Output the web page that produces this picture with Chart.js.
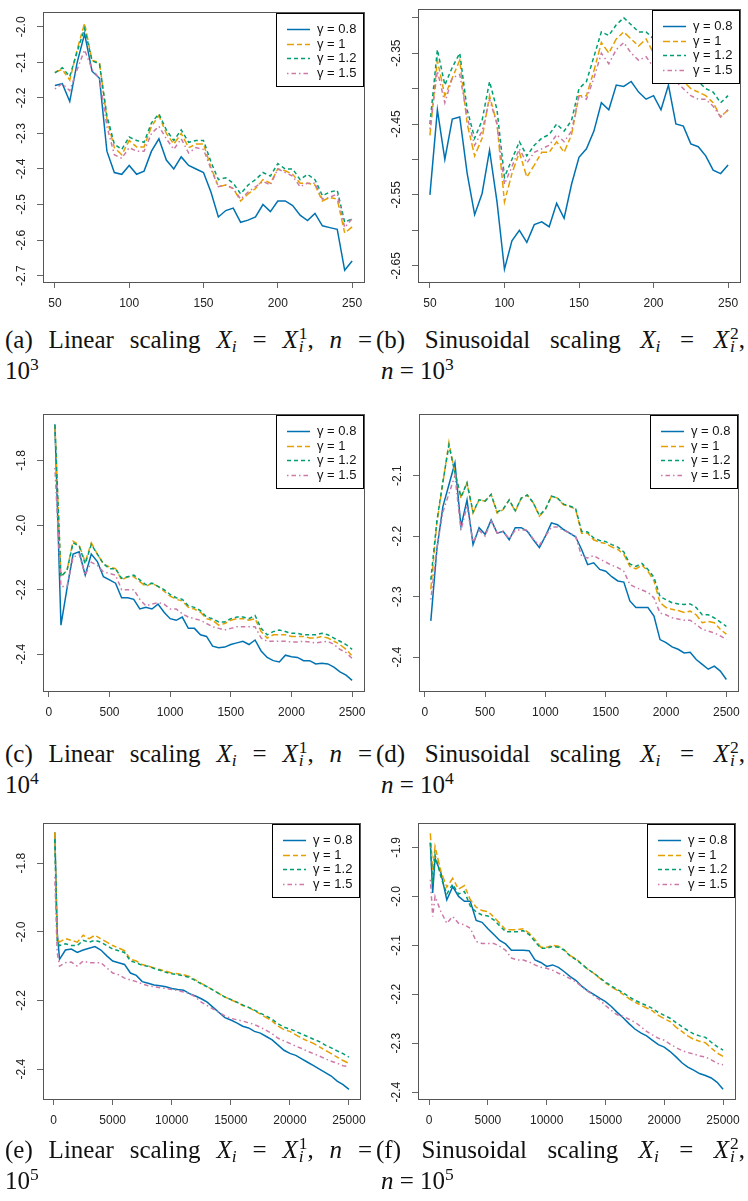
<!DOCTYPE html>
<html>
<head>
<meta charset="utf-8">
<script src="https://cdn.jsdelivr.net/npm/chart.js@4.4.1/dist/chart.umd.min.js"></script>
<style>
  body { margin: 0; background: #fff; }
  #page { position: relative; width: 748px; height: 1201px; overflow: hidden; background: #fff; }
  canvas { position: absolute; }
  .cap { position: absolute; font-family: "Liberation Serif", serif; font-size: 25px; line-height: 31px; color: #111; }
  .cap .l1 { display: flex; justify-content: space-between; align-items: baseline; white-space: nowrap; }
  .cap .l2 { white-space: nowrap; }
  .cap sub { font-size: 0.7em; vertical-align: -0.25em; line-height: 0; }
  .cap sup { font-size: 0.7em; vertical-align: 0.5em; line-height: 0; }
  .ss { display: inline-flex; flex-direction: column; font-size: 0.7em; line-height: 0.75; vertical-align: 0.5em; margin-left: 1px; }
</style>
</head>
<body>
<div id="page">
  <canvas id="pa" width="374" height="320" style="left:0;top:0;width:374px;height:320px"></canvas>
  <canvas id="pb" width="374" height="320" style="left:374px;top:0;width:374px;height:320px"></canvas>
  <canvas id="pc" width="374" height="329" style="left:0;top:400px;width:374px;height:329px"></canvas>
  <canvas id="pd" width="374" height="329" style="left:374px;top:400px;width:374px;height:329px"></canvas>
  <canvas id="pe" width="374" height="337" style="left:0;top:800px;width:374px;height:337px"></canvas>
  <canvas id="pf" width="374" height="337" style="left:374px;top:800px;width:374px;height:337px"></canvas>

  <div class="cap" style="left:5px;top:324px;width:367px">
    <div class="l1"><span>(a)</span><span>Linear</span><span>scaling</span><span><i>X</i><sub><i>i</i></sub></span><span>=</span><span><i>X</i><span class="ss"><span>1</span><i>i</i></span>,</span><span><i>n</i></span><span>=</span></div>
    <div class="l2">10<sup>3</sup></div>
  </div>
  <div class="cap" style="left:376px;top:324px;width:369px">
    <div class="l1"><span>(b)</span><span>Sinusoidal</span><span>scaling</span><span><i>X</i><sub><i>i</i></sub></span><span>=</span><span><i>X</i><span class="ss"><span>2</span><i>i</i></span>,</span></div>
    <div class="l2" style="padding-left:5px"><i>n</i> = 10<sup>3</sup></div>
  </div>
  <div class="cap" style="left:5px;top:738px;width:367px">
    <div class="l1"><span>(c)</span><span>Linear</span><span>scaling</span><span><i>X</i><sub><i>i</i></sub></span><span>=</span><span><i>X</i><span class="ss"><span>1</span><i>i</i></span>,</span><span><i>n</i></span><span>=</span></div>
    <div class="l2">10<sup>4</sup></div>
  </div>
  <div class="cap" style="left:376px;top:738px;width:369px">
    <div class="l1"><span>(d)</span><span>Sinusoidal</span><span>scaling</span><span><i>X</i><sub><i>i</i></sub></span><span>=</span><span><i>X</i><span class="ss"><span>2</span><i>i</i></span>,</span></div>
    <div class="l2" style="padding-left:5px"><i>n</i> = 10<sup>4</sup></div>
  </div>
  <div class="cap" style="left:5px;top:1134px;width:367px">
    <div class="l1"><span>(e)</span><span>Linear</span><span>scaling</span><span><i>X</i><sub><i>i</i></sub></span><span>=</span><span><i>X</i><span class="ss"><span>1</span><i>i</i></span>,</span><span><i>n</i></span><span>=</span></div>
    <div class="l2">10<sup>5</sup></div>
  </div>
  <div class="cap" style="left:376px;top:1134px;width:369px">
    <div class="l1"><span>(f)</span><span>Sinusoidal</span><span>scaling</span><span><i>X</i><sub><i>i</i></sub></span><span>=</span><span><i>X</i><span class="ss"><span>2</span><i>i</i></span>,</span></div>
    <div class="l2" style="padding-left:5px"><i>n</i> = 10<sup>5</sup></div>
  </div>
</div>

<script>
// legend labels, one per gamma
const gammaLabels = ["γ = 0.8", "γ = 1", "γ = 1.2", "γ = 1.5"];

// x values, n = 10^3 panels
const xAB = [50,55,60,65,70,75,80,85,90,95,100,105,110,115,120,125,130,135,140,145,150,
  155,160,165,170,175,180,185,190,195,200,205,210,215,220,225,230,235,240,245,250];

// (a) linear scaling, n = 10^3
const aG08 = [-2.165,-2.16,-2.21,-2.10,-2.02,-2.125,-2.145,-2.35,-2.41,-2.415,
  -2.39,-2.415,-2.406,-2.35,-2.315,-2.375,-2.40,-2.366,-2.39,-2.40,
  -2.41,-2.465,-2.535,-2.517,-2.51,-2.55,-2.544,-2.535,-2.50,-2.52,
  -2.49,-2.49,-2.503,-2.53,-2.545,-2.525,-2.56,-2.565,-2.57,-2.685,-2.659];
const aG10 = [-2.128,-2.12,-2.15,-2.064,-1.99,-2.095,-2.10,-2.26,-2.34,-2.36,
  -2.32,-2.338,-2.338,-2.28,-2.25,-2.30,-2.33,-2.30,-2.34,-2.33,
  -2.33,-2.395,-2.45,-2.445,-2.455,-2.49,-2.47,-2.455,-2.43,-2.44,
  -2.40,-2.405,-2.415,-2.44,-2.44,-2.445,-2.49,-2.48,-2.485,-2.58,-2.563];
const aG12 = [-2.13,-2.115,-2.14,-2.07,-2.005,-2.095,-2.105,-2.25,-2.33,-2.345,
  -2.31,-2.32,-2.325,-2.27,-2.245,-2.29,-2.32,-2.29,-2.325,-2.32,
  -2.32,-2.38,-2.43,-2.425,-2.44,-2.47,-2.445,-2.43,-2.41,-2.42,
  -2.385,-2.40,-2.40,-2.43,-2.415,-2.43,-2.475,-2.465,-2.46,-2.55,-2.54];
const aG15 = [-2.175,-2.16,-2.18,-2.12,-2.065,-2.12,-2.145,-2.28,-2.36,-2.37,
  -2.34,-2.35,-2.35,-2.30,-2.28,-2.315,-2.345,-2.315,-2.355,-2.34,
  -2.345,-2.40,-2.45,-2.445,-2.455,-2.485,-2.465,-2.45,-2.435,-2.445,
  -2.40,-2.41,-2.42,-2.45,-2.44,-2.44,-2.485,-2.48,-2.47,-2.565,-2.54];

// (b) sinusoidal scaling, n = 10^3
const bG08 = [-2.55,-2.43,-2.50,-2.443,-2.44,-2.52,-2.578,-2.548,-2.487,-2.56,
  -2.655,-2.615,-2.60,-2.617,-2.592,-2.588,-2.595,-2.562,-2.583,-2.535,
  -2.497,-2.485,-2.46,-2.42,-2.43,-2.395,-2.397,-2.39,-2.405,-2.415,
  -2.41,-2.43,-2.395,-2.45,-2.453,-2.478,-2.482,-2.495,-2.515,-2.52,-2.508];
const bG10 = [-2.466,-2.36,-2.41,-2.385,-2.36,-2.45,-2.495,-2.47,-2.41,-2.45,
  -2.56,-2.52,-2.49,-2.525,-2.508,-2.49,-2.49,-2.475,-2.49,-2.465,
  -2.41,-2.41,-2.375,-2.335,-2.35,-2.33,-2.32,-2.33,-2.34,-2.33,
  -2.35,-2.36,-2.37,-2.38,-2.39,-2.40,-2.405,-2.41,-2.42,-2.44,-2.43];
const bG12 = [-2.45,-2.345,-2.395,-2.37,-2.35,-2.43,-2.47,-2.445,-2.39,-2.43,
  -2.525,-2.50,-2.475,-2.495,-2.48,-2.47,-2.465,-2.45,-2.46,-2.445,
  -2.40,-2.39,-2.355,-2.32,-2.325,-2.31,-2.30,-2.31,-2.32,-2.32,
  -2.33,-2.34,-2.355,-2.37,-2.375,-2.385,-2.39,-2.40,-2.405,-2.42,-2.41];
const bG15 = [-2.457,-2.375,-2.42,-2.385,-2.38,-2.44,-2.48,-2.46,-2.415,-2.45,
  -2.535,-2.51,-2.485,-2.505,-2.49,-2.485,-2.48,-2.465,-2.475,-2.46,
  -2.41,-2.415,-2.385,-2.35,-2.365,-2.345,-2.335,-2.35,-2.36,-2.355,
  -2.37,-2.38,-2.385,-2.39,-2.40,-2.41,-2.415,-2.415,-2.425,-2.44,-2.43];

// x values, n = 10^4 panels
const xCD = [50,100,150,200,250,300,350,400,450,500,550,600,650,700,750,800,850,900,950,1000,
  1050,1100,1150,1200,1250,1300,1350,1400,1450,1500,1550,1600,1650,1700,1750,1800,1850,1900,1950,2000,
  2050,2100,2150,2200,2250,2300,2350,2400,2450,2500];

// (c) linear scaling, n = 10^4
const cG08 = [-1.688,-2.31,-2.196,-2.09,-2.083,-2.155,-2.09,-2.113,-2.16,-2.17,
  -2.18,-2.225,-2.225,-2.23,-2.26,-2.255,-2.26,-2.245,-2.27,-2.29,
  -2.295,-2.285,-2.32,-2.32,-2.34,-2.345,-2.375,-2.38,-2.378,-2.37,
  -2.365,-2.36,-2.37,-2.356,-2.39,-2.41,-2.42,-2.424,-2.403,-2.408,
  -2.41,-2.42,-2.42,-2.43,-2.428,-2.43,-2.44,-2.455,-2.465,-2.481];
const cG10 = [-1.69,-2.16,-2.14,-2.05,-2.062,-2.115,-2.055,-2.09,-2.12,-2.13,
  -2.135,-2.17,-2.16,-2.16,-2.175,-2.19,-2.18,-2.19,-2.205,-2.22,
  -2.23,-2.235,-2.255,-2.26,-2.27,-2.29,-2.295,-2.31,-2.305,-2.295,
  -2.29,-2.29,-2.295,-2.29,-2.33,-2.35,-2.34,-2.34,-2.34,-2.345,
  -2.345,-2.345,-2.35,-2.35,-2.345,-2.35,-2.36,-2.37,-2.385,-2.405];
const cG12 = [-1.69,-2.16,-2.14,-2.055,-2.065,-2.12,-2.06,-2.09,-2.12,-2.135,
  -2.135,-2.165,-2.16,-2.155,-2.17,-2.185,-2.18,-2.19,-2.20,-2.215,
  -2.225,-2.23,-2.25,-2.255,-2.265,-2.285,-2.29,-2.30,-2.30,-2.29,
  -2.285,-2.285,-2.29,-2.28,-2.32,-2.34,-2.33,-2.325,-2.33,-2.335,
  -2.335,-2.34,-2.34,-2.34,-2.335,-2.34,-2.35,-2.36,-2.37,-2.385];
const cG15 = [-1.823,-2.19,-2.19,-2.10,-2.09,-2.155,-2.115,-2.125,-2.145,-2.15,
  -2.155,-2.20,-2.20,-2.20,-2.23,-2.25,-2.245,-2.24,-2.245,-2.26,
  -2.26,-2.275,-2.285,-2.29,-2.295,-2.305,-2.315,-2.32,-2.325,-2.32,
  -2.315,-2.315,-2.315,-2.315,-2.35,-2.36,-2.36,-2.36,-2.36,-2.362,
  -2.362,-2.36,-2.362,-2.365,-2.362,-2.36,-2.37,-2.385,-2.395,-2.413];

// (d) sinusoidal scaling, n = 10^4
const dG08 = [-2.34,-2.222,-2.151,-2.115,-2.079,-2.184,-2.14,-2.214,-2.186,-2.197,
  -2.173,-2.195,-2.192,-2.206,-2.186,-2.186,-2.192,-2.206,-2.219,-2.20,
  -2.178,-2.181,-2.189,-2.195,-2.201,-2.222,-2.247,-2.244,-2.255,-2.258,
  -2.267,-2.274,-2.276,-2.307,-2.318,-2.318,-2.318,-2.332,-2.371,-2.376,
  -2.383,-2.387,-2.393,-2.392,-2.404,-2.412,-2.42,-2.415,-2.423,-2.437];
const dG10 = [-2.288,-2.178,-2.112,-2.045,-2.096,-2.137,-2.112,-2.162,-2.14,-2.142,
  -2.131,-2.162,-2.156,-2.14,-2.159,-2.137,-2.132,-2.145,-2.167,-2.156,
  -2.134,-2.137,-2.148,-2.151,-2.155,-2.195,-2.195,-2.206,-2.21,-2.212,
  -2.218,-2.222,-2.23,-2.25,-2.254,-2.248,-2.258,-2.274,-2.31,-2.318,
  -2.321,-2.323,-2.326,-2.324,-2.33,-2.343,-2.341,-2.343,-2.354,-2.362];
const dG12 = [-2.272,-2.175,-2.11,-2.05,-2.095,-2.135,-2.112,-2.16,-2.14,-2.142,
  -2.131,-2.16,-2.155,-2.14,-2.158,-2.137,-2.132,-2.145,-2.166,-2.155,
  -2.134,-2.137,-2.147,-2.15,-2.154,-2.192,-2.193,-2.203,-2.207,-2.209,
  -2.214,-2.218,-2.226,-2.246,-2.25,-2.245,-2.255,-2.268,-2.30,-2.305,
  -2.31,-2.312,-2.313,-2.312,-2.318,-2.33,-2.33,-2.335,-2.342,-2.349];
const dG15 = [-2.305,-2.22,-2.16,-2.13,-2.10,-2.19,-2.15,-2.21,-2.19,-2.20,
  -2.175,-2.195,-2.192,-2.204,-2.19,-2.19,-2.19,-2.205,-2.215,-2.20,
  -2.185,-2.185,-2.19,-2.195,-2.20,-2.233,-2.236,-2.232,-2.238,-2.243,
  -2.248,-2.252,-2.258,-2.28,-2.285,-2.289,-2.293,-2.302,-2.327,-2.33,
  -2.335,-2.337,-2.339,-2.339,-2.346,-2.354,-2.357,-2.36,-2.365,-2.371];

// x values, n = 10^5 panels
const xEF = [100,300,500,1000,1500,2000,2500,3000,3500,4000,4500,5000,5500,6000,6500,7000,7500,8000,
  8500,9000,9500,10000,10500,11000,11500,12000,12500,13000,13500,14000,14500,15000,15500,16000,
  16500,17000,17500,18000,18500,19000,19500,20000,20500,21000,21500,22000,22500,23000,23500,24000,
  24500,25000];

// (e) linear scaling, n = 10^5
const eG08 = [-1.71,-2.00,-2.08,
  -2.053,-2.05,-2.06,-2.053,-2.048,-2.043,-2.053,-2.07,-2.085,-2.09,
  -2.095,-2.12,-2.127,-2.145,-2.15,-2.155,-2.157,-2.16,-2.165,-2.168,
  -2.17,-2.18,-2.187,-2.195,-2.205,-2.22,-2.235,-2.25,-2.257,-2.265,
  -2.275,-2.28,-2.29,-2.295,-2.305,-2.315,-2.33,-2.345,-2.354,-2.36,
  -2.37,-2.38,-2.39,-2.40,-2.41,-2.42,-2.435,-2.445,-2.459];
const eG10 = [-1.71,-2.02,-2.03,
  -2.02,-2.025,-2.03,-2.01,-2.02,-2.01,-2.02,-2.03,-2.04,-2.047,
  -2.055,-2.08,-2.085,-2.095,-2.10,-2.105,-2.11,-2.115,-2.12,-2.122,
  -2.125,-2.13,-2.14,-2.15,-2.16,-2.17,-2.18,-2.19,-2.198,-2.205,
  -2.215,-2.22,-2.23,-2.24,-2.25,-2.26,-2.275,-2.285,-2.29,-2.30,
  -2.31,-2.318,-2.325,-2.335,-2.345,-2.355,-2.365,-2.375,-2.383];
const eG12 = [-1.73,-2.03,-2.04,
  -2.035,-2.04,-2.04,-2.025,-2.03,-2.025,-2.03,-2.04,-2.05,-2.055,
  -2.06,-2.085,-2.09,-2.098,-2.10,-2.107,-2.112,-2.118,-2.122,-2.125,
  -2.128,-2.133,-2.142,-2.152,-2.16,-2.17,-2.18,-2.19,-2.197,-2.205,
  -2.213,-2.22,-2.228,-2.237,-2.245,-2.255,-2.268,-2.278,-2.283,-2.29,
  -2.298,-2.305,-2.313,-2.32,-2.33,-2.338,-2.347,-2.355,-2.365];
const eG15 = [-1.84,-2.06,-2.10,
  -2.09,-2.088,-2.10,-2.085,-2.09,-2.09,-2.09,-2.105,-2.12,-2.125,
  -2.135,-2.14,-2.145,-2.152,-2.157,-2.16,-2.163,-2.165,-2.168,-2.171,
  -2.175,-2.18,-2.19,-2.205,-2.215,-2.225,-2.235,-2.245,-2.252,-2.256,
  -2.26,-2.265,-2.27,-2.278,-2.287,-2.297,-2.31,-2.318,-2.325,-2.333,
  -2.34,-2.348,-2.355,-2.362,-2.37,-2.377,-2.383,-2.39,-2.393];

// (f) sinusoidal scaling, n = 10^5
const fG08 = [-1.891,-1.993,-1.922,
  -1.952,-2.007,-1.98,-2.0,-2.01,-2.01,-2.049,-2.053,-2.066,-2.078,
  -2.09,-2.097,-2.11,-2.11,-2.11,-2.111,-2.13,-2.135,-2.143,-2.14,
  -2.145,-2.154,-2.164,-2.172,-2.184,-2.193,-2.2,-2.208,-2.215,-2.225,
  -2.237,-2.248,-2.26,-2.271,-2.279,-2.285,-2.294,-2.303,-2.308,-2.317,
  -2.328,-2.34,-2.349,-2.355,-2.362,-2.366,-2.371,-2.38,-2.394];
const fG10 = [-1.871,-1.946,-1.898,
  -1.949,-1.981,-1.963,-1.985,-1.978,-2.007,-2.022,-2.029,-2.031,-2.042,
  -2.055,-2.068,-2.068,-2.068,-2.066,-2.075,-2.088,-2.104,-2.104,-2.1,
  -2.102,-2.109,-2.121,-2.128,-2.138,-2.149,-2.157,-2.167,-2.177,-2.185,
  -2.192,-2.2,-2.209,-2.216,-2.222,-2.228,-2.234,-2.243,-2.25,-2.256,
  -2.267,-2.276,-2.285,-2.292,-2.296,-2.299,-2.31,-2.32,-2.327];
const fG12 = [-1.89,-1.975,-1.915,
  -1.96,-1.995,-1.975,-1.995,-1.99,-2.02,-2.032,-2.038,-2.04,-2.048,
  -2.06,-2.072,-2.072,-2.072,-2.07,-2.078,-2.092,-2.106,-2.106,-2.102,
  -2.104,-2.11,-2.122,-2.129,-2.139,-2.149,-2.157,-2.166,-2.175,-2.183,
  -2.19,-2.197,-2.205,-2.212,-2.218,-2.223,-2.229,-2.237,-2.243,-2.249,
  -2.258,-2.266,-2.274,-2.281,-2.285,-2.288,-2.298,-2.307,-2.314];
const fG15 = [-1.966,-2.041,-2.0,
  -2.031,-2.055,-2.041,-2.055,-2.058,-2.065,-2.092,-2.096,-2.096,-2.096,
  -2.102,-2.11,-2.126,-2.13,-2.13,-2.134,-2.14,-2.145,-2.147,-2.151,
  -2.157,-2.162,-2.168,-2.175,-2.185,-2.194,-2.203,-2.211,-2.223,-2.233,
  -2.242,-2.245,-2.251,-2.257,-2.266,-2.276,-2.283,-2.29,-2.294,-2.302,
  -2.309,-2.315,-2.319,-2.322,-2.326,-2.328,-2.334,-2.341,-2.344];

// axis ticks
const xTicksAB = [50, 100, 150, 200, 250];
const xTicksCD = [0, 500, 1000, 1500, 2000, 2500];
const xTicksEF = [0, 5000, 10000, 15000, 20000, 25000];

const yTicksA = [-2.0, -2.1, -2.2, -2.3, -2.4, -2.5, -2.6, -2.7];
const yLabelsA = ["-2.0", "-2.1", "-2.2", "-2.3", "-2.4", "-2.5", "-2.6", "-2.7"];
const yTicksB = [-2.30, -2.35, -2.40, -2.45, -2.50, -2.55, -2.60, -2.65];
const yLabelsB = ["", "-2.35", "", "-2.45", "", "-2.55", "", "-2.65"];
const yTicksC = [-1.8, -2.0, -2.2, -2.4];
const yLabelsC = ["-1.8", "-2.0", "-2.2", "-2.4"];
const yTicksD = [-2.1, -2.2, -2.3, -2.4];
const yLabelsD = ["-2.1", "-2.2", "-2.3", "-2.4"];
const yTicksE = [-1.8, -2.0, -2.2, -2.4];
const yLabelsE = ["-1.8", "-2.0", "-2.2", "-2.4"];
const yTicksF = [-1.9, -2.0, -2.1, -2.2, -2.3, -2.4];
const yLabelsF = ["-1.9", "-2.0", "-2.1", "-2.2", "-2.3", "-2.4"];

const lineStyles = [
  { color: "#0072B2", dash: [] },
  { color: "#E69F00", dash: [7, 3, 5, 3] },
  { color: "#009E73", dash: [4, 3] },
  { color: "#CC79A7", dash: [1.5, 3, 4.5, 3] },
];

const TICK_FONT = { family: "'Liberation Sans', Arial, sans-serif", size: 12 };
const TICK_LEN = 6;

const measureCtx = document.createElement("canvas").getContext("2d");
function textWidth(s) {
  measureCtx.font = "12px 'Liberation Sans', Arial, sans-serif";
  return measureCtx.measureText(s).width;
}

// box around the plotting region (R's box())
const frame = {
  id: "frame",
  afterDraw(chart) {
    const { ctx, chartArea: a } = chart;
    ctx.save();
    ctx.strokeStyle = "#555";
    ctx.lineWidth = 1;
    ctx.strokeRect(Math.round(a.left) + 0.5, Math.round(a.top) + 0.5,
      Math.round(a.right - a.left), Math.round(a.bottom - a.top));
    ctx.restore();
  },
};

// top-right legend with white background, like legend("topright")
const legendBox = {
  id: "legendBox",
  afterDraw(chart) {
    const { ctx, chartArea: a } = chart;
    const w = 88, h = 74;
    const x = Math.round(a.right) - w, y = Math.round(a.top) + 1;
    ctx.save();
    ctx.fillStyle = "#fff";
    ctx.fillRect(x, y, w, h);
    ctx.strokeStyle = "#000";
    ctx.lineWidth = 1;
    ctx.strokeRect(x + 0.5, y + 0.5, w - 1, h - 1);
    ctx.font = "13px 'Liberation Sans', Arial, sans-serif";
    ctx.textBaseline = "middle";
    chart.data.datasets.forEach((ds, i) => {
      const cy = Math.round(y + 16 + i * 14.5) + 0.5;
      ctx.strokeStyle = ds.borderColor;
      ctx.lineWidth = ds.borderWidth;
      ctx.setLineDash(ds.borderDash);
      ctx.beginPath();
      ctx.moveTo(x + 11, cy);
      ctx.lineTo(x + 34, cy);
      ctx.stroke();
      ctx.setLineDash([]);
      ctx.fillStyle = "#111";
      ctx.fillText(ds.label, x + 41, cy);
    });
    ctx.restore();
  },
};

function makePanel(cfg) {
  const widest = Math.max(...cfg.yLabels.map(textWidth));
  const yPad = Math.max(0, 15 - widest / 2);

  const datasets = cfg.series.map((ys, i) => ({
    label: gammaLabels[i],
    data: ys.map((y, j) => ({ x: cfg.xs[j], y })),
    borderColor: lineStyles[i].color,
    borderDash: lineStyles[i].dash,
    borderWidth: 1.5,
    pointRadius: 0,
    tension: 0,
    fill: false,
    order: cfg.series.length - i,
  }));

  return new Chart(document.getElementById(cfg.id), {
    type: "line",
    data: { datasets },
    options: {
      responsive: false,
      animation: false,
      events: [],
      layout: { autoPadding: false, padding: { top: cfg.padTop, right: cfg.padRight, left: 0, bottom: 0 } },
      plugins: { legend: { display: false }, tooltip: { enabled: false } },
      scales: {
        x: {
          type: "linear",
          min: cfg.xMin,
          max: cfg.xMax,
          afterBuildTicks: (s) => { s.ticks = cfg.xTicks.map((v) => ({ value: v })); },
          afterFit: (s) => { s.height = 38; },
          grid: { drawOnChartArea: false, drawTicks: true, tickLength: TICK_LEN, color: "#666" },
          border: { display: false },
          ticks: {
            autoSkip: false, maxRotation: 0, minRotation: 0, padding: 8, color: "#222", font: TICK_FONT,
            callback: (v, i) => String(cfg.xTicks[i]),
          },
        },
        y: {
          type: "linear",
          min: cfg.yMin,
          max: cfg.yMax,
          afterBuildTicks: (s) => { s.ticks = cfg.yTicks.map((v) => ({ value: v })); },
          afterFit: (s) => { s.width = cfg.yAxisW; },
          grid: { drawOnChartArea: false, drawTicks: true, tickLength: TICK_LEN, color: "#666" },
          border: { display: false },
          ticks: {
            autoSkip: false,
            minRotation: 90,
            maxRotation: 90,
            crossAlign: "center",
            padding: yPad,
            color: "#222",
            font: TICK_FONT,
            callback: (v, i) => cfg.yLabels[i],
          },
        },
      },
    },
    plugins: [frame, legendBox],
  });
}

function initCharts() {
  makePanel({ id: "pa", xs: xAB, series: [aG08, aG10, aG12, aG15], xMin: 42, xMax: 258,
    yMin: -2.718, yMax: -1.958, xTicks: xTicksAB, yTicks: yTicksA, yLabels: yLabelsA,
    yAxisW: 43, padTop: 5, padRight: 10 });
  makePanel({ id: "pb", xs: xAB, series: [bG08, bG10, bG12, bG15], xMin: 42, xMax: 258,
    yMin: -2.673, yMax: -2.287, xTicks: xTicksAB, yTicks: yTicksB, yLabels: yLabelsB,
    yAxisW: 44, padTop: 5, padRight: 8 });
  makePanel({ id: "pc", xs: xCD, series: [cG08, cG10, cG12, cG15], xMin: -48, xMax: 2598,
    yMin: -2.514, yMax: -1.656, xTicks: xTicksCD, yTicks: yTicksC, yLabels: yLabelsC,
    yAxisW: 43, padTop: 14, padRight: 10 });
  makePanel({ id: "pd", xs: xCD, series: [dG08, dG10, dG12, dG15], xMin: -48, xMax: 2598,
    yMin: -2.456, yMax: -1.998, xTicks: xTicksCD, yTicks: yTicksD, yLabels: yLabelsD,
    yAxisW: 45, padTop: 14, padRight: 8 });
  makePanel({ id: "pe", xs: xEF, series: [eG08, eG10, eG12, eG15], xMin: -900, xMax: 25950,
    yMin: -2.487, yMax: -1.683, xTicks: xTicksEF, yTicks: yTicksE, yLabels: yLabelsE,
    yAxisW: 43, padTop: 23, padRight: 10 });
  makePanel({ id: "pf", xs: xEF, series: [fG08, fG10, fG12, fG15], xMin: -950, xMax: 26000,
    yMin: -2.414, yMax: -1.850, xTicks: xTicksEF, yTicks: yTicksF, yLabels: yLabelsF,
    yAxisW: 44, padTop: 23, padRight: 8 });
}

document.addEventListener("DOMContentLoaded", initCharts);
</script>
</body>
</html>
